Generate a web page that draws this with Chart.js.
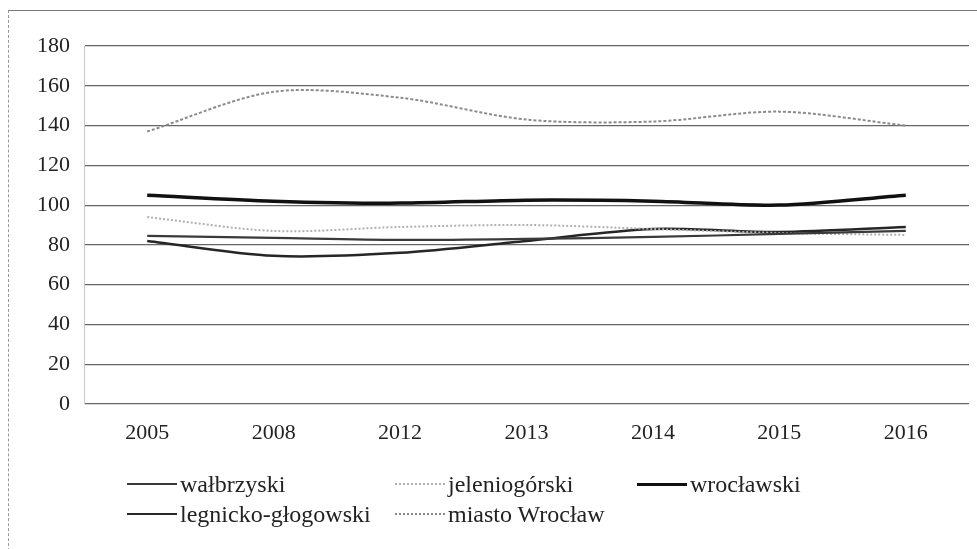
<!DOCTYPE html>
<html>
<head>
<meta charset="utf-8">
<script src="https://cdn.jsdelivr.net/npm/chart.js@4.4.1/dist/chart.umd.min.js"></script>
<style>
    body { margin: 0; background: #fff; }
    #wrap { position: relative; width: 977px; height: 549px; overflow: hidden; }
    #frame { position: absolute; left: 8px; top: 10px; width: 980px; height: 560px;
             border-top: 1px solid #777; border-left: 1px dashed #999; }
    #legend-container4 { position: absolute; left: 127px; top: 469px; }
    #legend-container4 ul { list-style: none; margin: 0; padding: 0; display: grid;
             grid-template-columns: 268px 242px auto; }
    #legend-container4 li { display: flex; align-items: center; height: 30px;
             font: 24px "Liberation Serif", serif; color: #222; white-space: nowrap; }
    .ln { display: inline-block; width: 50px; height: 0; margin-right: 3px; }
</style>
</head>
<body>
<div id="wrap">
    <div id="frame"></div>
    <canvas id="chart4" width="977" height="549"></canvas>
    <div id="legend-container4"></div>
</div>
<script>
// categories
const years = ['2005', '2008', '2012', '2013', '2014', '2015', '2016'];

// series values
const walbrzyski = [84.5, 83.5, 82.5, 83, 84, 85.5, 87];
const jeleniogorski = [94, 87, 89, 90, 88, 86, 85];
const wroclawski = [105, 102, 101, 102.5, 102, 100, 105];
const legnickoGlogowski = [82, 74.5, 76, 82, 88, 86.5, 89];
const miastoWroclaw = [137, 157, 154, 143, 142, 147, 140];

// y axis ticks
const yMax = 180;
const yStep = 20;

const serif = '"Liberation Serif", serif';

function line(label, data, color, width, dash) {
    return {
        label: label,
        data: data,
        borderColor: color,
        backgroundColor: color,
        borderWidth: width,
        borderDash: dash || [],
        pointRadius: 0,
        tension: 0.3,
        fill: false
    };
}

const data4 = {
    labels: years,
    datasets: [
        line('wałbrzyski', walbrzyski, '#3a3a3a', 2.2),
        line('jeleniogórski', jeleniogorski, '#b0b0b0', 2, [2, 2]),
        line('wrocławski', wroclawski, '#111111', 3.5),
        line('legnicko-głogowski', legnickoGlogowski, '#262626', 2.5),
        line('miasto Wrocław', miastoWroclaw, '#8a8a8a', 2, [3, 2])
    ]
};

// HTML legend laid out in three columns
const htmlLegendPlugin = {
    id: 'htmlLegend',
    afterUpdate(chart, args, options) {
        const container = document.getElementById(options.containerID);
        container.innerHTML = '';
        const ul = document.createElement('ul');
        chart.data.datasets.forEach(ds => {
            const li = document.createElement('li');
            const sw = document.createElement('span');
            sw.className = 'ln';
            sw.style.borderTop = ds.borderWidth + 'px ' + (ds.borderDash.length ? 'dotted ' : 'solid ') + ds.borderColor;
            const txt = document.createElement('span');
            txt.textContent = ds.label;
            li.appendChild(sw);
            li.appendChild(txt);
            ul.appendChild(li);
        });
        container.appendChild(ul);
    }
};

const config4 = {
    type: 'line',
    data: data4,
    options: {
        responsive: false,
        animation: false,
        layout: { padding: { top: 46, right: 8, bottom: 100, left: 0 } },
        plugins: {
            htmlLegend: { containerID: 'legend-container4' },
            legend: { display: false },
            tooltip: { enabled: false }
        },
        scales: {
            x: {
                offset: true,
                grid: { display: false, drawTicks: false },
                border: { display: false },
                ticks: { padding: 16, color: '#222', font: { family: serif, size: 22 } },
                afterFit: s => { s.height = 45; }
            },
            y: {
                min: 0,
                max: yMax,
                ticks: { stepSize: yStep, padding: 14, color: '#222', font: { family: serif, size: 22 } },
                grid: { color: '#666', lineWidth: 1.2, drawTicks: false },
                border: { display: true, color: '#c8c8c8', width: 1 },
                afterFit: s => { s.width = 84; }
            }
        }
    },
    plugins: [htmlLegendPlugin]
};

const chart44 = document.getElementById('chart4').getContext('2d');
const chart4 = new Chart(chart44, config4);
</script>
</body>
</html>
